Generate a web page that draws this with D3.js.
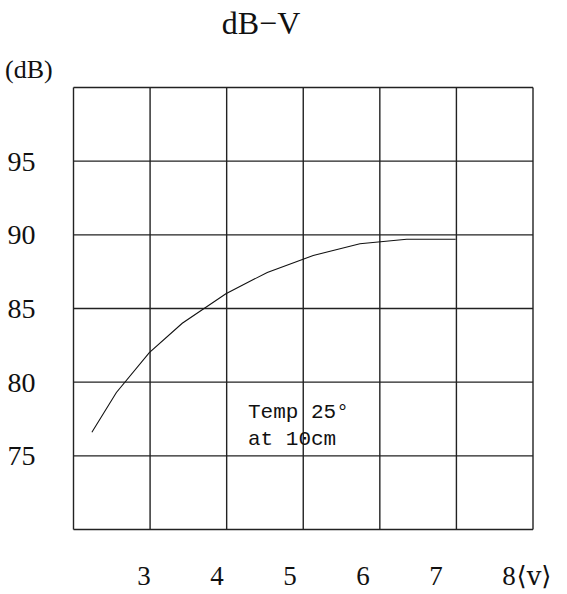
<!DOCTYPE html>
<html>
<head>
<meta charset="utf-8">
<script src="https://cdn.jsdelivr.net/npm/d3@7"></script>
<style>
  body { margin: 0; background: #fff; }
  svg text { fill: #111; }
</style>
</head>
<body>
<svg id="chart" width="567" height="594"></svg>
<script>
// data
var volts = [2.24, 2.56, 2.99, 3.42, 3.99, 4.53, 5.13, 5.74, 6.35, 6.99];
var dbVals = [76.6, 79.3, 82.0, 84.0, 86.0, 87.45, 88.6, 89.4, 89.7, 89.7];
var yTicks = [75, 80, 85, 90, 95];
var xTicks = [3, 4, 5, 6, 7, 8];
var xGrid = [2, 3, 4, 5, 6, 7, 8];
var yGrid = [70, 75, 80, 85, 90, 95, 100];
var noteLines = ["Temp 25°", "at 10cm"];

var svg = d3.select('#chart');
var serif = '"Liberation Serif", "DejaVu Serif", serif';

var x = d3.scaleLinear().domain([2, 8]).range([73.5, 533]);
var y = d3.scaleLinear().domain([70, 100]).range([529.5, 87.5]);
// tick labels sit a bit left of the grid lines in the original
var xl = d3.scaleLinear().domain([2, 8]).range([70.5, 508.5]);

// grid
var grid = svg.append('g').attr('stroke', '#222').attr('stroke-width', 1.4);
grid.selectAll('line.v').data(xGrid).enter().append('line')
  .attr('class', 'v')
  .attr('x1', function(d){ return x(d); }).attr('x2', function(d){ return x(d); })
  .attr('y1', y(70)).attr('y2', y(100));
grid.selectAll('line.h').data(yGrid).enter().append('line')
  .attr('class', 'h')
  .attr('x1', x(2)).attr('x2', x(8))
  .attr('y1', function(d){ return y(d); }).attr('y2', function(d){ return y(d); });

// curve
var pts = volts.map(function(v, i){ return [v, dbVals[i]]; });
svg.append('path')
  .datum(pts)
  .attr('fill', 'none')
  .attr('stroke', '#111')
  .attr('stroke-width', 1.1)
  .attr('d', d3.line().x(function(d){ return x(d[0]); }).y(function(d){ return y(d[1]); }));

// y axis labels
var yAxis = svg.append('g')
  .attr('transform', 'translate(' + x(2) + ',0)')
  .call(d3.axisLeft(y).tickValues(yTicks).tickSize(0).tickPadding(38));
yAxis.select('.domain').remove();
yAxis.selectAll('text').attr('font-family', serif).attr('font-size', 28).attr('fill', '#111');

// x axis labels
var xAxis = svg.append('g')
  .attr('transform', 'translate(0,566)')
  .call(d3.axisBottom(xl).tickValues(xTicks).tickFormat(d3.format('d')).tickSize(0).tickPadding(0));
xAxis.select('.domain').remove();
xAxis.selectAll('text').attr('font-family', serif).attr('font-size', 27).attr('fill', '#111');
svg.append('text')
  .attr('x', xl(8) + 8).attr('y', 585)
  .attr('font-family', '"DejaVu Serif", serif').attr('font-size', 26)
  .text('⟨v⟩');

// title and unit
svg.append('text')
  .attr('x', 261).attr('y', 34)
  .attr('text-anchor', 'middle')
  .attr('font-family', serif).attr('font-size', 32)
  .text('dB−V');
svg.append('text')
  .attr('x', 5).attr('y', 78)
  .attr('font-family', serif).attr('font-size', 26)
  .text('(dB)');

// note
svg.append('g').selectAll('text').data(noteLines).enter().append('text')
  .attr('x', 248)
  .attr('y', function(d, i){ return 418 + i * 27; })
  .attr('font-family', '"Liberation Mono", monospace')
  .attr('font-size', 21)
  .text(function(d){ return d; });
</script>
</body>
</html>
